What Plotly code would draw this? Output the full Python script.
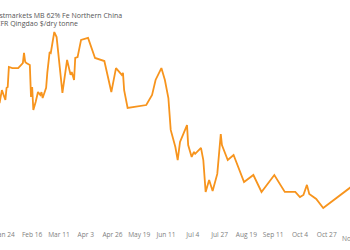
import plotly.graph_objects as go

dates = [
    "2022-01-19", "2022-01-21", "2022-01-24", "2022-01-25", "2022-01-26", "2022-01-27",
    "2022-01-30", "2022-02-04", "2022-02-08", "2022-02-09", "2022-02-10", "2022-02-11",
    "2022-02-14", "2022-02-15", "2022-02-16", "2022-02-17", "2022-02-19", "2022-02-21",
    "2022-02-23", "2022-02-24", "2022-02-25", "2022-02-27", "2022-02-28", "2022-03-01",
    "2022-03-03", "2022-03-04", "2022-03-07", "2022-03-09", "2022-03-14", "2022-03-18",
    "2022-03-21", "2022-03-22", "2022-03-24", "2022-03-25", "2022-03-27", "2022-03-30",
    "2022-04-05", "2022-04-11", "2022-04-19", "2022-04-25", "2022-04-29", "2022-05-04",
    "2022-05-05", "2022-05-06", "2022-05-09", "2022-05-25", "2022-05-30", "2022-06-02",
    "2022-06-07", "2022-06-10", "2022-06-13", "2022-06-15", "2022-06-19", "2022-06-21",
    "2022-06-23", "2022-06-29", "2022-06-30", "2022-07-03", "2022-07-05", "2022-07-06",
    "2022-07-11", "2022-07-13", "2022-07-15", "2022-07-18", "2022-07-21", "2022-07-25",
    "2022-07-28", "2022-07-29", "2022-08-03", "2022-08-08", "2022-08-17", "2022-08-25",
    "2022-09-01", "2022-09-12", "2022-09-21", "2022-09-30", "2022-10-04", "2022-10-07",
    "2022-10-10", "2022-10-12", "2022-10-18", "2022-10-24", "2022-11-17",
]

prices = [
    127.7, 133.6, 129.1, 134.6, 135.0, 144.1,
    143.6, 143.6, 145.9, 150.5, 146.4, 145.9,
    145.0, 130.5, 135.0, 124.6, 128.2, 132.7,
    131.4, 132.7, 130.0, 132.7, 134.6, 141.4,
    150.9, 150.5, 160.0, 157.7, 132.3, 147.3,
    140.5, 141.8, 138.2, 148.2, 148.6, 156.4,
    157.3, 148.2, 146.8, 132.7, 143.6, 140.5,
    141.4, 133.6, 125.5, 126.8, 131.4, 138.2,
    143.6, 138.2, 130.0, 115.5, 107.7, 101.8,
    110.0, 117.7, 108.6, 103.2, 105.5, 104.6,
    107.3, 101.8, 87.3, 92.7, 87.7, 95.5,
    113.6, 108.6, 101.8, 104.1, 91.8, 95.0,
    87.3, 95.0, 87.3, 87.3, 85.0, 85.9,
    90.5, 86.4, 84.1, 80.0, 89.6,
]

tick_vals = [
    "2022-01-24", "2022-02-16", "2022-03-11", "2022-04-03", "2022-04-26",
    "2022-05-19", "2022-06-11", "2022-07-04", "2022-07-27", "2022-08-19",
    "2022-09-11", "2022-10-04", "2022-10-27",
]
tick_text = [
    "Jan 24", "Feb 16", "Mar 11", "Apr 3", "Apr 26", "May 19", "Jun 11",
    "Jul 4", "Jul 27", "Aug 19", "Sep 11", "Oct 4", "Oct 27",
]
next_tick_text = "Nov 19"

title_lines = ["Fastmarkets MB 62% Fe Northern China", "CFR Qingdao $/dry tonne"]

FONT = "Open Sans"

fig = go.Figure()
fig.add_trace(go.Scatter(
    x=dates, y=prices, mode="lines",
    line=dict(color="#f7941d", width=1.8),
    hoverinfo="skip", showlegend=False,
))

fig.update_layout(
    width=350, height=250,
    margin=dict(l=0, r=0, t=0, b=21),
    paper_bgcolor="white", plot_bgcolor="white",
    font=dict(family=FONT, size=6.5, color="#777777"),
    xaxis=dict(
        range=["2022-01-19 09:00", "2022-11-16"],
        tickvals=tick_vals, ticktext=tick_text,
        showgrid=False, zeroline=False, showline=False, ticks="",
        ticklabeloverflow="allow", automargin=False,
        tickfont=dict(family=FONT, size=6.6, color="#808080"),
    ),
    yaxis=dict(
        range=[70.45, 174.55],
        showgrid=False, zeroline=False, showline=False,
        showticklabels=False, ticks="", automargin=False,
    ),
    annotations=[
        dict(text=title_lines[0], xref="paper", yref="paper",
             x=-8.6 / 350, y=(229 - 15) / 229, xanchor="left", yanchor="middle",
             showarrow=False, borderpad=0,
             font=dict(family=FONT, size=7, color="#555555")),
        dict(text=title_lines[1], xref="paper", yref="paper",
             x=-5.0 / 350, y=(229 - 23) / 229, xanchor="left", yanchor="middle",
             showarrow=False, borderpad=0,
             font=dict(family=FONT, size=7, color="#555555")),
        dict(text=next_tick_text, xref="paper", yref="paper",
             x=353.4 / 350, y=-9.3 / 229, xanchor="center", yanchor="middle",
             showarrow=False, borderpad=0,
             font=dict(family=FONT, size=6.6, color="#808080")),
    ],
)

fig.write_html("out.html")
